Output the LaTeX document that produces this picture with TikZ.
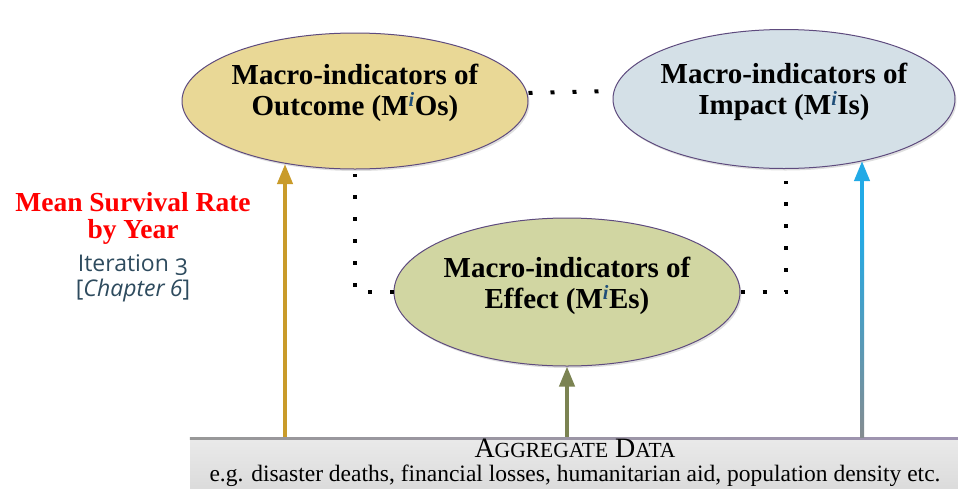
\documentclass[tikz,border=0pt]{standalone}
\usepackage{fontspec}
\setmainfont{Liberation Serif}
\newfontfamily\sansf[Numbers=OldStyle]{Open Sans}
\usetikzlibrary{shapes.geometric,arrows.meta,shadows}
\definecolor{outc}{HTML}{E9D896}
\definecolor{impc}{HTML}{D4E0E7}
\definecolor{effc}{HTML}{D1D6A2}
\definecolor{edgec}{HTML}{5E4B7E}
\definecolor{goldc}{HTML}{C99B2A}
\definecolor{olivec}{HTML}{7B8352}
\definecolor{bluec}{HTML}{22AAE6}
\definecolor{grayc}{HTML}{858C90}
\definecolor{slatec}{HTML}{2E4B5E}
\definecolor{supc}{HTML}{1F4E79}
\definecolor{boxc}{HTML}{D9D9D9}
\tikzset{
  ell/.style={ellipse, draw=edgec, line width=1pt, minimum width=346pt, minimum height=136pt,
    inner sep=0pt,
    drop shadow={opacity=0.25, shadow xshift=1.5pt, shadow yshift=-2pt}},
  elltext/.style={align=center, inner sep=0pt, font=\fontsize{29}{31}\selectfont\bfseries},
  dots/.style={line width=4pt, dash pattern=on 4pt off 18pt},
  arr/.style={line width=4pt, -{Triangle[width=15pt,length=20pt]}}
}
\newcommand{\mysup}{\textsuperscript{\textcolor{supc}{\itshape i}}}
\begin{document}
\begin{tikzpicture}[x=1pt,y=-1pt]
\useasboundingbox (0,0) rectangle (958,488);
% aggregate data box
\node[rectangle, minimum width=770pt, minimum height=60pt, anchor=north, inner sep=0pt,
  top color=boxc!55!white, bottom color=boxc] (agg) at (575,437) {};
\shade[left color=boxc!70!black, right color=edgec!60!white] (agg.north west) rectangle ([yshift=-2pt]agg.north east);
\node[inner sep=0pt, align=center, font=\fontsize{23.5}{24}\selectfont] (aggt) at (575,463)
  {{\fontsize{28}{28}\selectfont A{\fontsize{21.5}{22}\selectfont GGREGATE} D{\fontsize{21.5}{22}\selectfont ATA}}\\
   e.g. disaster deaths, financial losses, humanitarian aid, population density etc.};
% ellipses
\node[ell, fill=outc] (out) at (355,101) {};
\node[elltext] (outt) at (355,93) {Macro-indicators of\\Outcome (M\mysup Os)};
\node[ell, fill=impc, minimum width=342pt, minimum height=139pt] (imp) at (784,99) {};
\node[elltext] (impt) at (784,92) {Macro-indicators of\\Impact (M\mysup Is)};
\node[ell, fill=effc, minimum height=148pt] (eff) at (567,292) {};
\node[elltext] (efft) at (567,286) {Macro-indicators of\\Effect (M\mysup Es)};
% dotted connectors
\draw[dots] ([yshift=8pt]out.east) -- ([yshift=8pt]imp.west);
\draw[dots] (eff.west) -| ([yshift=-4pt]out.south);
\draw[dots] (eff.east) -| ([xshift=2pt,yshift=-12pt]imp.south);
% arrows
\coordinate (lt) at (285,164);
\coordinate (rt) at (862,161);
\draw[arr, goldc] (agg.north -| lt) -- (lt);
\draw[arr, olivec] (agg.north -| eff.south) -- (eff.south);
\draw[arr, bluec] (agg.north -| rt) -- (rt);
\shade[top color=bluec, bottom color=grayc] ([xshift=-2pt]rt |- 0,230) rectangle ([xshift=2pt]agg.north -| rt);
% left labels
\node[text=red, font=\fontsize{27.5}{27}\selectfont\bfseries, align=center] (msr) at (133,218) {Mean Survival Rate\\by Year};
\node[text=slatec, font=\sansf\fontsize{23}{25}\selectfont, align=center] (iter) at (133,278) {Iteration 3\\{[}\textit{Chapter 6}{]}};
\end{tikzpicture}
\end{document}
